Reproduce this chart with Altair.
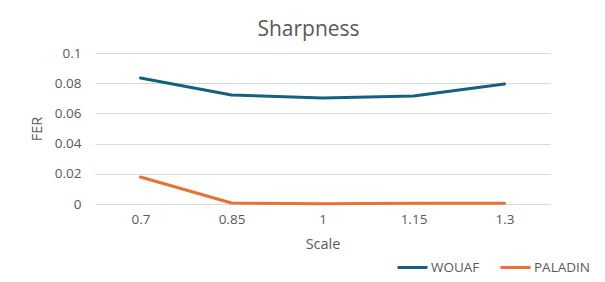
import altair as alt
import pandas as pd

scales = ["0.7", "0.85", "1", "1.15", "1.3"]
wouaf = [0.0834, 0.0722, 0.0702, 0.0715, 0.0795]
paladin = [0.0179, 0.0007, 0.0002, 0.0005, 0.0005]
series = ["WOUAF", "PALADIN"]
colors = ["#156082", "#E97132"]

rows = []
for s, v in zip(scales, wouaf):
    rows.append({"Scale": s, "FER": v, "Series": "WOUAF"})
for s, v in zip(scales, paladin):
    rows.append({"Scale": s, "FER": v, "Series": "PALADIN"})
df = pd.DataFrame(rows)

FONT = "Open Sans"
GREY = "#595959"

lines = alt.Chart(df).mark_line(strokeWidth=3, strokeCap="round", strokeJoin="round").encode(
    x=alt.X("Scale:N", sort=scales, scale=alt.Scale(paddingInner=0, paddingOuter=0.5),
            axis=alt.Axis(title="Scale", labelAngle=0, ticks=False, domain=False, grid=False,
                          labelPadding=8, titlePadding=12)),
    y=alt.Y("FER:Q", scale=alt.Scale(domain=[0, 0.1], nice=False),
            axis=alt.Axis(title="FER", values=[0, 0.02, 0.04, 0.06, 0.08, 0.1], format="~g",
                          ticks=False, domain=False, gridColor="#d9d9d9", gridWidth=1,
                          labelPadding=14, titlePadding=10)),
    color=alt.Color("Series:N", sort=series, scale=alt.Scale(domain=series, range=colors),
                    legend=alt.Legend(title=None, orient="none", direction="horizontal",
                                      legendX=301, legendY=198, symbolType="stroke",
                                      symbolStrokeWidth=3, symbolSize=900,
                                      labelFontSize=13.5, labelColor=GREY, labelFont=FONT,
                                      columnPadding=14, labelOffset=2)),
)

chart = lines.properties(
    width=455, height=151,
    title=alt.TitleParams("Sharpness", fontSize=21, font=FONT, color=GREY, fontWeight="normal",
                          anchor="middle", offset=6, dx=-14),
    padding={"left": 87, "top": 45, "right": 47, "bottom": 78},
    autosize=alt.AutoSizeParams(type="none"),
).configure_view(stroke=None).configure_axis(
    labelFont=FONT, titleFont=FONT, labelFontSize=13.5, titleFontSize=14.5,
    labelColor=GREY, titleColor=GREY, titleFontWeight="normal"
)

chart.save("out.html", embed_options={"renderer": "svg", "actions": False})
